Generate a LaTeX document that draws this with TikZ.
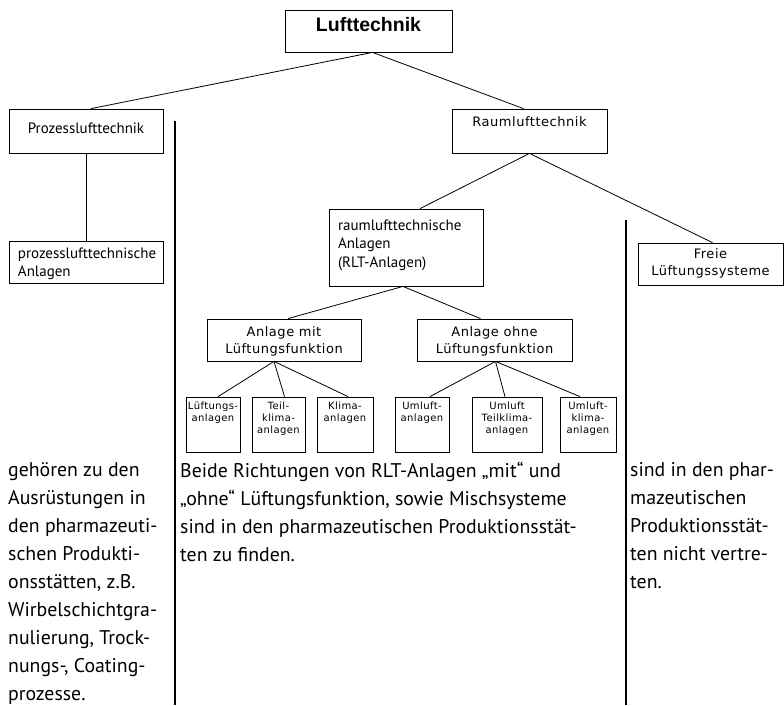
\documentclass[tikz,border=0pt]{standalone}
\usepackage{fontspec}
\setmainfont{PT Sans}
\newfontfamily\pixfont[LetterSpace=4]{DejaVu Sans}
\newfontfamily\headfont{Liberation Sans}
\newcommand{\boxtxt}[4]{\parbox[c][#2][t]{#1}{\centering\rule{0pt}{#3}#4}}
\newcommand{\boxtxtl}[4]{\parbox[c][#2][t]{#1}{\raggedright\leftskip=9pt\rule{0pt}{#3}#4}}
\tikzset{
  box/.style={draw, line width=0.8pt, inner sep=0pt},
  link/.style={line width=0.8pt},
  sep/.style={line width=1.6pt},
  note/.style={anchor=north west, inner sep=0pt, align=left, font=\fontsize{19.8}{28}\selectfont},
  myriad/.style={font=\fontsize{15}{18.5}\selectfont},
  pix/.style={font=\pixfont\fontsize{13}{17.5}\selectfont},
  tiny/.style={font=\pixfont\fontsize{10}{12.3}\selectfont},
}
\begin{document}
\begin{tikzpicture}[x=1pt, y=-1pt]
	\useasboundingbox (0,0) rectangle (784,705);
	% tree
	\node[box, font=\headfont\bfseries\fontsize{19.5}{22}\selectfont] (luft) at (368.5,31) {\boxtxt{167pt}{42pt}{21pt}{Lufttechnik}};
	\node[box, myriad] (prozess) at (86,131) {\boxtxt{154pt}{44pt}{24pt}{Prozesslufttechnik}};
	\node[box, myriad] (prozessanl) at (86,262) {\boxtxtl{154pt}{42pt}{17pt}{prozesslufttechnische\\Anlagen}};
	\node[box, pix] (raum) at (529.5,131) {\boxtxt{155pt}{44pt}{17pt}{Raumlufttechnik}};
	\node[box, myriad] (rlt) at (406,247.5) {\boxtxtl{154pt}{77pt}{21pt}{raumlufttechnische\\Anlagen\\(RLT-Anlagen)}};
	\node[box, pix] (freie) at (710.5,264) {\boxtxt{145pt}{42pt}{15pt}{Freie\\Lüftungssysteme}};
	\node[box, pix] (mit) at (284,340) {\boxtxt{154pt}{42pt}{17pt}{Anlage mit\\Lüftungsfunktion}};
	\node[box, pix] (ohne) at (494.5,340) {\boxtxt{155pt}{42pt}{17pt}{Anlage ohne\\Lüftungsfunktion}};
	\node[box, tiny] (lueft) at (213,424.5) {\boxtxt{54pt}{55pt}{12pt}{Lüftungs-\\anlagen}};
	\node[box, tiny] (teil) at (278.5,424.5) {\boxtxt{53pt}{55pt}{12pt}{Teil-\\klima-\\anlagen}};
	\node[box, tiny] (klima) at (345,424.5) {\boxtxt{56pt}{55pt}{12pt}{Klima-\\anlagen}};
	\node[box, tiny] (uml) at (422,424.5) {\boxtxt{54pt}{55pt}{12pt}{Umluft-\\anlagen}};
	\node[box, tiny] (umlteil) at (507,424.5) {\boxtxt{70pt}{55pt}{12pt}{Umluft\\Teilklima-\\anlagen}};
	\node[box, tiny] (umlklima) at (588,424.5) {\boxtxt{56pt}{55pt}{12pt}{Umluft-\\klima-\\anlagen}};
	% connectors
	\draw[link] ([xshift=4pt]luft.south) -- ([xshift=5pt]prozess.north);
	\draw[link] ([xshift=4pt]luft.south) -- ([xshift=-6pt]raum.north);
	\draw[link] (prozess) -- (prozessanl);
	\draw[link] (raum.south) -- ([xshift=14pt]rlt.north);
	\draw[link] (raum.south) -- ([xshift=2pt]freie.north);
	\draw[link] ([xshift=-3pt]rlt.south) -- ([xshift=4pt]mit.north);
	\draw[link] ([xshift=-3pt]rlt.south) -- ([xshift=-14pt]ohne.north);
	\draw[link] ([xshift=-10pt]mit.south) -- ([xshift=5pt]lueft.north);
	\draw[link] ([xshift=-10pt]mit.south) -- ([xshift=6pt]teil.north);
	\draw[link] ([xshift=-10pt]mit.south) -- ([xshift=3pt]klima.north);
	\draw[link] ([xshift=1pt]ohne.south) -- ([xshift=8pt]uml.north);
	\draw[link] ([xshift=1pt]ohne.south) -- ([xshift=-2pt]umlteil.north);
	\draw[link] ([xshift=1pt]ohne.south) -- ([xshift=-8pt]umlklima.north);
	% separators
	\draw[sep] (175,121) -- (175,705);
	\draw[sep] (626,220) -- (626,705);
	% notes
	\node[note] (note1) at (8,462) {gehören zu den\\Ausrüstungen in\\den pharmazeuti-\\schen Produkti-\\onsstätten, z.B.\\Wirbelschichtgra-\\nulierung, Trock-\\nungs-, Coating-\\prozesse.};
	\node[note] (note2) at (180,462) {Beide Richtungen von RLT-Anlagen „mit“ und\\„ohne“ Lüftungsfunktion, sowie Mischsysteme\\sind in den pharmazeutischen Produktionsstät-\\ten zu finden.};
	\node[note] (note3) at (630,462) {sind in den phar-\\mazeutischen\\Produktionsstät-\\ten nicht vertre-\\ten.};
\end{tikzpicture}
\end{document}
